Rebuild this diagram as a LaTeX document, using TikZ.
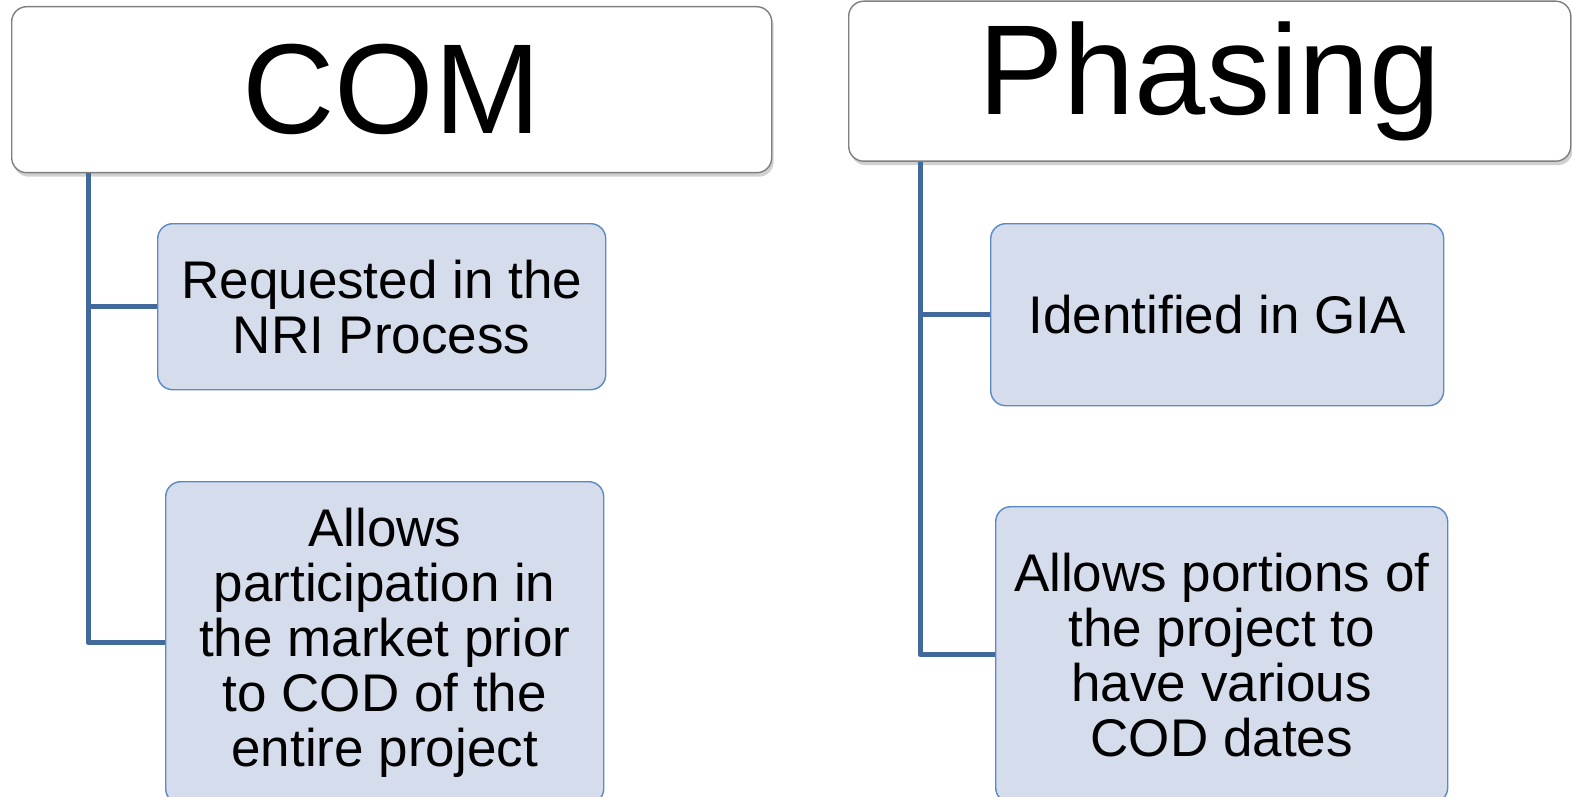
\documentclass[tikz,border=0pt]{standalone}
\usepackage{fontspec}
\setmainfont{Liberation Sans}
\usetikzlibrary{shadows,calc}
\definecolor{hdrline}{HTML}{7F7F7F}
\definecolor{subfill}{HTML}{D5DCEB}
\definecolor{subline}{HTML}{5A89C4}
\definecolor{connblue}{HTML}{41699C}
\tikzset{
  header/.style={draw=hdrline, line width=1.4pt, fill=white, rounded corners=15pt,
    anchor=north west, inner sep=0pt, align=center,
    font=\fontsize{128}{130}\selectfont,
    drop shadow={shadow xshift=2pt, shadow yshift=-4pt, opacity=0.3, fill=black!60}},
  subbox/.style={draw=subline, line width=1.4pt, fill=subfill, rounded corners=15pt,
    anchor=north west, inner sep=0pt, align=center,
    font=\fontsize{53}{55}\selectfont},
  conn/.style={draw=connblue, line width=5pt, line join=round}
}
\begin{document}
\begin{tikzpicture}[x=1pt,y=-1pt]
  \useasboundingbox (0,0) rectangle (1572,797);
  % column headers
  \node[header, minimum width=760pt, minimum height=166pt] (com) at (11,6) {COM};
  \node[header, minimum width=722pt, minimum height=160pt] (pha) at (848,0.5) {Phasing};
  % COM children
  \node[subbox, minimum width=448pt, minimum height=166pt] (b1) at (157,223)
    {Requested in the\\NRI Process};
  \node[subbox, minimum width=438pt, minimum height=322pt] (b2) at (165,481)
    {Allows\\participation in\\the market prior\\to COD of the\\entire project};
  % Phasing children
  \node[subbox, minimum width=453pt, minimum height=182pt] (b3) at (990,223)
    {Identified in GIA};
  \node[subbox, minimum width=452pt, minimum height=296pt] (b4) at (995,506)
    {Allows portions of\\the project to\\have various\\COD dates};
  % connectors
  \coordinate (t1) at ($(com.south west)+(77,0)$);
  \coordinate (t2) at ($(pha.south west)+(72,0)$);
  \draw[conn] (t1) |- (b2.west);
  \draw[conn] (b1.west) -- (b1.west -| t1);
  \draw[conn] (t2) |- (b4.west);
  \draw[conn] (b3.west) -- (b3.west -| t2);
\end{tikzpicture}
\end{document}
